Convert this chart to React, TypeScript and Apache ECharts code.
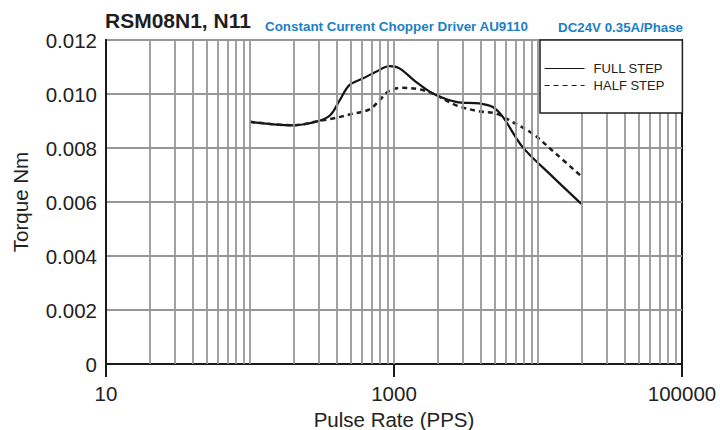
import React, { useEffect, useRef } from 'react';
import * as echarts from 'echarts';

// Pulse rate (PPS) and torque (Nm)
const fullStepPps = [100, 200, 300, 360, 420, 490, 610, 750, 930, 1090, 1420, 1860, 2700, 3900, 4850, 5700, 7800, 12000, 20000];
const fullStepTorque = [0.00897, 0.00884, 0.0090, 0.00921, 0.00977, 0.01033, 0.01058, 0.01082, 0.01103, 0.01095, 0.01045, 0.01002, 0.00971, 0.00965, 0.00952, 0.00915, 0.00804, 0.00705, 0.00593];

const halfStepPps = [100, 200, 300, 376, 491, 676, 793, 931, 1150, 1500, 1860, 2700, 3900, 5100, 6660, 9170, 13300, 20000];
const halfStepTorque = [0.00897, 0.00884, 0.0090, 0.00909, 0.00924, 0.00943, 0.00977, 0.01012, 0.01023, 0.01017, 0.01002, 0.00958, 0.00936, 0.00928, 0.00896, 0.00853, 0.00779, 0.00695];

const xTickValues = [10, 1000, 100000];
const verticalGridPps = [
  20, 30, 40, 50, 60, 70, 80, 90, 100,
  200, 300, 400, 500, 600, 700, 800, 900, 1000,
  2000, 3000, 4000, 5000, 6000, 7000, 8000, 9000, 10000,
  20000, 30000, 40000, 50000, 60000, 70000, 80000, 90000,
];

const seriesNames = ['FULL STEP', 'HALF STEP'];
const titleText = 'RSM08N1, N11';
const subtitleText = 'Constant Current Chopper Driver AU9110';
const ratingText = 'DC24V 0.35A/Phase';

const FONT = '"Liberation Sans", Arial, Helvetica, sans-serif';
const GRID_GRAY = '#979797';

export default function App() {
  const ref = useRef<HTMLDivElement>(null);

  useEffect(() => {
    const chart = echarts.init(ref.current!, null, { renderer: 'svg' });
    const pair = (xs: number[], ys: number[]) => xs.map((x, i) => [x, ys[i]]);

    chart.setOption({
      animation: false,
      backgroundColor: '#ffffff',
      textStyle: { fontFamily: FONT },
      title: [
        {
          text: titleText,
          left: 105,
          top: 10,
          padding: 0,
          textStyle: { fontSize: 21, fontWeight: 'bold', color: '#1e1e1e', fontFamily: FONT },
        },
        {
          text: subtitleText,
          left: 265,
          top: 20,
          padding: 0,
          textStyle: { fontSize: 13.4, fontWeight: 'bold', color: '#1b7fc4', fontFamily: FONT },
        },
        {
          text: ratingText,
          right: 37,
          top: 21,
          padding: 0,
          textStyle: { fontSize: 13.3, fontWeight: 'bold', color: '#1b7fc4', fontFamily: FONT },
        },
      ],
      legend: {
        data: seriesNames,
        orient: 'vertical',
        left: 540,
        top: 40,
        z: 20,
        backgroundColor: '#ffffff',
        borderColor: '#1e1e1e',
        borderWidth: 1.5,
        borderRadius: 0,
        padding: [22, 18, 21, 4],
        itemWidth: 40,
        itemHeight: 14,
        itemGap: 4,
        lineStyle: { width: 1.2 },
        itemStyle: { color: 'rgba(0,0,0,0)', borderWidth: 0 },
        textStyle: { fontSize: 13, color: '#222', fontFamily: FONT, padding: [0, 0, 0, 4] },
        selectedMode: false,
      },
      grid: {
        left: 106,
        right: 38,
        top: 40,
        bottom: 66,
        show: true,
        outerBoundsMode: 'none',
        containLabel: false,
        borderColor: '#1a1a1a',
        borderWidth: 2,
        backgroundColor: 'transparent',
      },
      xAxis: {
        type: 'log',
        logBase: 10,
        min: 10,
        max: 100000,
        name: 'Pulse Rate (PPS)',
        nameLocation: 'middle',
        nameGap: 43,
        nameTextStyle: { fontSize: 20.5, color: '#222', fontFamily: FONT },
        axisLine: { show: true, lineStyle: { color: '#1a1a1a', width: 2 } },
        axisTick: {
          show: true,
          inside: false,
          length: 13,
          customValues: xTickValues,
          lineStyle: { color: '#1a1a1a', width: 2 },
        },
        axisLabel: {
          customValues: xTickValues,
          fontSize: 20.5,
          color: '#222',
          margin: 19,
          fontFamily: FONT,
          formatter: (v: number) => String(Math.round(v)),
        },
        splitLine: { show: false },
      },
      yAxis: {
        type: 'value',
        min: 0,
        max: 0.012,
        interval: 0.002,
        name: 'Torque Nm',
        nameLocation: 'middle',
        nameGap: 75,
        nameTextStyle: { fontSize: 20.5, color: '#222', fontFamily: FONT },
        axisLine: { show: true, lineStyle: { color: '#1a1a1a', width: 2 } },
        axisTick: { show: false },
        axisLabel: {
          fontSize: 20.5,
          color: '#222',
          margin: 9,
          fontFamily: FONT,
          formatter: (v: number) => (v === 0 ? '0' : v.toFixed(3)),
        },
        splitLine: { show: true, lineStyle: { color: GRID_GRAY, width: 1.8 } },
      },
      series: [
        {
          name: 'grid',
          type: 'line',
          data: [],
          silent: true,
          z: 1,
          markLine: {
            silent: true,
            symbol: ['none', 'none'],
            label: { show: false },
            lineStyle: { color: GRID_GRAY, width: 1.8, type: 'solid' },
            emphasis: { disabled: true },
            data: verticalGridPps.map((v) => ({ xAxis: v })),
          },
        },
        {
          name: seriesNames[0],
          type: 'line',
          data: pair(fullStepPps, fullStepTorque),
          smooth: 0.35,
          symbol: 'none',
          z: 3,
          lineStyle: { color: '#141414', width: 2.2, type: 'solid' },
          itemStyle: { color: '#141414' },
        },
        {
          name: seriesNames[1],
          type: 'line',
          data: pair(halfStepPps, halfStepTorque),
          smooth: 0.35,
          symbol: 'none',
          z: 3,
          lineStyle: { color: '#1e1e1e', width: 2.5, type: [5, 4] },
          itemStyle: { color: '#1e1e1e' },
        },
      ],
    });

    return () => chart.dispose();
  }, []);

  return (
    <div
      ref={ref}
      style={{ position: 'fixed', left: 0, top: 0, width: 720, height: 430, background: '#fff' }}
    />
  );
}
